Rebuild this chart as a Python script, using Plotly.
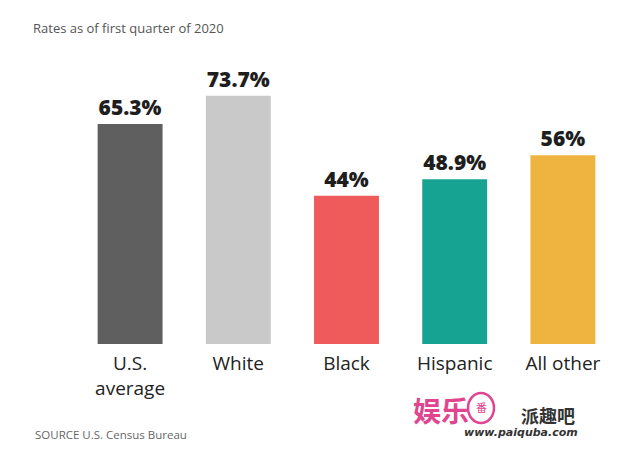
import plotly.graph_objects as go

categories = ["U.S.<br>average", "White", "Black", "Hispanic", "All other<br>races"]
rates = [65.3, 73.7, 44.0, 48.9, 56.0]
value_labels = ["65.3%", "73.7%", "44%", "48.9%", "56%"]
colors = ["#5f5f5f", "#c9c9c9", "#ef5b5b", "#17a392", "#efb340"]

title_text = "Rates as of first quarter of 2020"
source_text = "SOURCE U.S. Census Bureau"

W, H = 640, 456
L, R, T, B = 76, 23, 60, 112
PW, PH = W - L - R, H - T - B


def px(x):
    return (x - L) / PW


def py(y):
    return (H - B - y) / PH


FONT = "Open Sans"

fig = go.Figure(
    go.Bar(
        x=categories,
        y=rates,
        text=value_labels,
        textposition="outside",
        constraintext="none",
        cliponaxis=False,
        textfont=dict(family=FONT, size=21, color="#1e1e1e", weight=800),
        marker=dict(color=colors, line=dict(width=0)),
        width=0.6,
        hoverinfo="skip",
    )
)

fig.update_layout(
    width=W,
    height=H,
    margin=dict(l=L, r=R, t=T, b=B),
    paper_bgcolor="white",
    plot_bgcolor="white",
    showlegend=False,
    font=dict(family=FONT),
    title=dict(
        text=title_text,
        x=33 / W,
        xanchor="left",
        xref="container",
        y=1 - 28 / H,
        yanchor="middle",
        yref="container",
        font=dict(family=FONT, size=13, color="#555555"),
    ),
    xaxis=dict(
        range=[-0.5, 4.5],
        showgrid=False,
        zeroline=False,
        showline=False,
        ticks="",
        tickfont=dict(family=FONT, size=19, color="#222222"),
        ticklabelstandoff=6,
    ),
    yaxis=dict(
        range=[0, PH / 3.37],
        visible=False,
        showgrid=False,
        zeroline=False,
    ),
)

# white watermark box that hides part of the last category label
fig.add_shape(
    type="rect", xref="paper", yref="paper",
    x0=px(372), x1=px(626), y0=py(447), y1=py(385),
    fillcolor="white", line=dict(width=0), layer="above",
)
# pink circle of the watermark logo
fig.add_shape(
    type="circle", xref="paper", yref="paper",
    x0=px(468), x1=px(494), y0=py(423), y1=py(393),
    line=dict(color="#e0468f", width=2.5), layer="above",
)

fig.add_annotation(
    text=source_text, xref="paper", yref="paper",
    x=px(33), y=py(434), xanchor="left", yanchor="middle",
    showarrow=False, font=dict(family=FONT, size=11.5, color="#666666"),
)
fig.add_annotation(
    text="<b>娱乐</b>", xref="paper", yref="paper",
    x=px(441), y=py(410), xanchor="center", yanchor="middle",
    showarrow=False, font=dict(family="Noto Sans CJK SC", size=28, color="#e0468f"),
)
fig.add_annotation(
    text="番", xref="paper", yref="paper",
    x=px(481), y=py(407), xanchor="center", yanchor="middle",
    showarrow=False, font=dict(family="Noto Sans CJK SC", size=11, color="#e0468f"),
)
fig.add_annotation(
    text="<b>派趣吧</b>", xref="paper", yref="paper",
    x=px(548), y=py(415), xanchor="center", yanchor="middle",
    showarrow=False, font=dict(family="Noto Sans CJK SC", size=18, color="#333333"),
)
fig.add_annotation(
    text="<b><i>www.paiquba.com</i></b>", xref="paper", yref="paper",
    x=px(521), y=py(432), xanchor="center", yanchor="middle",
    showarrow=False, font=dict(family="DejaVu Sans", size=11, color="#333333"),
)

fig.write_html(
    "out.html",
    config={"displayModeBar": False},
    post_script="document.body.style.margin='0';document.body.style.padding='0';",
)
